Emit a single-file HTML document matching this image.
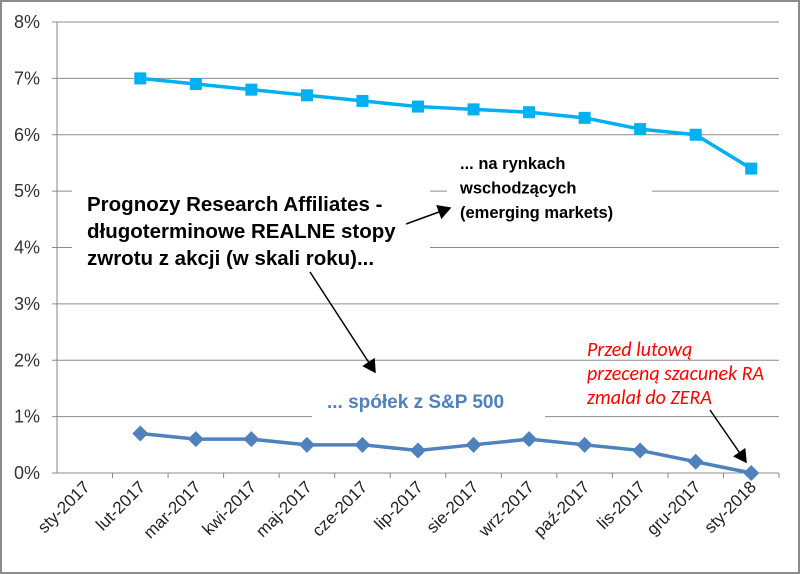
<!DOCTYPE html>
<html><head><meta charset="utf-8"><style>
body{margin:0;background:#fff}
svg{display:block;font-family:"Liberation Sans",sans-serif}
</style></head><body>
<svg width="800" height="574">
<rect x="1" y="1" width="798" height="572" fill="#fff" stroke="#8c8c8c" stroke-width="2"/>
<g id="grid"></g>
<g fill="#fff">
<rect x="72" y="182" width="358" height="100"/>
<rect x="447" y="148" width="205" height="85"/>
<rect x="312" y="385" width="233" height="40"/>
</g>
<g id="marks"></g>
<g font-family="'Liberation Sans', sans-serif">
<text x="87" y="211" font-size="20.5" font-weight="bold"><tspan x="87">Prognozy Research Affiliates -</tspan><tspan x="87" dy="27">długoterminowe REALNE stopy</tspan><tspan x="87" dy="27">zwrotu z akcji (w skali roku)...</tspan></text>
<text x="460" y="169" font-size="16.5" font-weight="bold"><tspan x="460">... na rynkach</tspan><tspan x="460" dy="24.5">wschodzących</tspan><tspan x="460" dy="24.5">(emerging markets)</tspan></text>
<text x="327" y="408" font-size="19" font-weight="bold" fill="#4f81bd">... spółek z S&amp;P 500</text>
<text x="587" y="356" font-size="20" font-style="italic" fill="#ff0000" font-family="Calibri, Carlito, 'Liberation Sans', sans-serif"><tspan x="587">Przed lutową</tspan><tspan x="587" dy="24">przeceną szacunek RA</tspan><tspan x="587" dy="24">zmalał do ZERA</tspan></text>
<defs><marker id="ah" markerWidth="10" markerHeight="10" refX="8" refY="5" orient="auto"><path d="M0,0 L9,5 L0,10 Z" fill="#000"/></marker></defs>
<line x1="406" y1="224" x2="450" y2="208" stroke="#000" stroke-width="1.5" marker-end="url(#ah)"/>
<line x1="310" y1="272" x2="375" y2="372" stroke="#000" stroke-width="1.5" marker-end="url(#ah)"/>
<line x1="710" y1="410" x2="746" y2="462" stroke="#000" stroke-width="1.5" marker-end="url(#ah)"/>
</g>
</svg>
<script>
const categories=["sty-2017","lut-2017","mar-2017","kwi-2017","maj-2017","cze-2017","lip-2017","sie-2017","wrz-2017","paź-2017","lis-2017","gru-2017","sty-2018"];
const emValues=[null,7.0,6.9,6.8,6.7,6.6,6.5,6.45,6.4,6.3,6.1,6.0,5.4];
const spValues=[null,0.7,0.6,0.6,0.5,0.5,0.4,0.5,0.6,0.5,0.4,0.2,0.0];
const yTicks=[0,1,2,3,4,5,6,7,8];
const NS="http://www.w3.org/2000/svg";
const x0=57,x1=779,yB=473,yT=22;
const band=(x1-x0)/categories.length;
const X=i=>x0+band*(i+0.5);
const Y=v=>yB-(v/8)*(yB-yT);
function mk(t,a,p){const e=document.createElementNS(NS,t);for(const k in a)e.setAttribute(k,a[k]);p.appendChild(e);return e;}
const g=document.getElementById('grid'),m=document.getElementById('marks');
yTicks.forEach(v=>{
 const gl=mk('line',{x1:x0-5,y1:Y(v),x2:x1,y2:Y(v),stroke:'#8c8c8c'},g);
 
 
 const t=mk('text',{x:x0-17,y:Y(v)+6,'text-anchor':'end','font-size':'18',fill:'#333'},g);
 t.textContent=v+'%';
 
 
});
const ya=mk('line',{x1:x0,y1:yT,x2:x0,y2:yB,stroke:'#868686'},g);


categories.forEach((c,i)=>{
 const tk=mk('line',{x1:x0+band*(i+1),y1:yB,x2:x0+band*(i+1),y2:yB+5,stroke:'#868686'},g);
 
 
 const tx=X(i)+6,ty=yB+15;
 const t=mk('text',{x:tx,y:ty,'text-anchor':'end','font-size':'17',fill:'#222',transform:`rotate(-45 ${tx} ${ty})`},g);
 t.textContent=c;
 
 
});
function series(vals,color,shape,name){
 const pts=vals.map((v,i)=>v==null?null:[X(i),Y(v)]).filter(p=>p);
 const pl=mk('polyline',{points:pts.map(p=>p.join(',')).join(' '),fill:'none',stroke:color,'stroke-width':3.5},m);
 
 
 pts.forEach(p=>{
  let e;
  if(shape==='sq') e=mk('rect',{x:p[0]-6,y:p[1]-6,width:12,height:12,fill:color},m);
  else e=mk('polygon',{points:`${p[0]},${p[1]-8} ${p[0]+8},${p[1]} ${p[0]},${p[1]+8} ${p[0]-8},${p[1]}`,fill:color},m);
  
  
 });
}
series(emValues,'#00b0f0','sq','em');
series(spValues,'#4f81bd','dia','sp500');
</script>
</body></html>
